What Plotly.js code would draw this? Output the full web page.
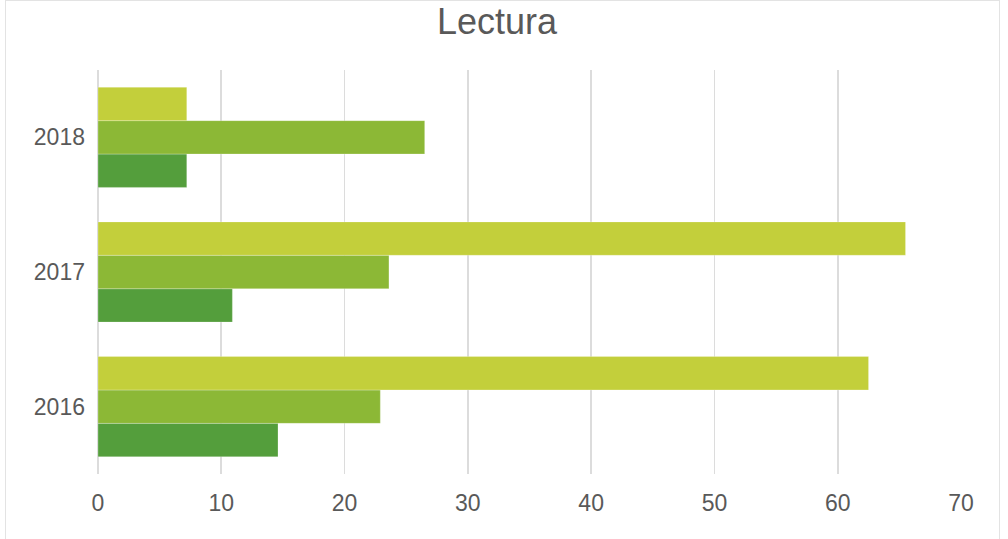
<!DOCTYPE html>
<html>
<head>
<meta charset="utf-8">
<script src="https://cdn.plot.ly/plotly-3.0.1.min.js"></script>
<style>
  html, body { margin: 0; padding: 0; background: #fff; }
  #wrap { position: relative; width: 1008px; height: 539px; }
  #chart { width: 1008px; height: 539px; }
  #frame { position: absolute; left: 5px; top: 0px; width: 995px; height: 545px; border: 1.5px solid #e3e3e3; box-sizing: border-box; pointer-events: none; }
</style>
</head>
<body>
<div id="wrap">
  <div id="chart"></div>
  <div id="frame"></div>
</div>
<script>
const years = ["2016", "2017", "2018"];
const seriesA = [14.6, 10.9, 7.2];   // dark green (bottom of each group)
const seriesB = [22.9, 23.6, 26.5];  // mid green
const seriesC = [62.5, 65.5, 7.2];   // yellow-green (top of each group)
const xTicks = [0, 10, 20, 30, 40, 50, 60, 70];

const colors = ["#549e3c", "#8cb836", "#c3cf3b"];
const vals = [seriesA, seriesB, seriesC];

const traces = vals.map((v, i) => ({
  type: "bar",
  orientation: "h",
  y: years,
  x: v,
  marker: { color: colors[i], line: { color: "rgba(255,255,255,0.5)", width: 0.5 } },
  hoverinfo: "x+y"
}));

const layout = {
  width: 1008,
  height: 539,
  margin: { l: 98, r: 47, t: 70, b: 65 },
  paper_bgcolor: "#ffffff",
  plot_bgcolor: "#ffffff",
  barmode: "group",
  bargap: 0.256,
  bargroupgap: 0,
  showlegend: false,
  title: {
    text: "Lectura",
    x: 0.493,
    xanchor: "center",
    y: 0.96,
    yanchor: "middle",
    font: { family: "Liberation Sans, Arial, sans-serif", size: 36, color: "#595959" }
  },
  xaxis: {
    range: [0, 70],
    tickvals: xTicks,
    ticktext: xTicks.map(String),
    showgrid: true,
    gridcolor: "#dcdcdc",
    gridwidth: 1.8,
    zeroline: true,
    zerolinecolor: "#dcdcdc",
    zerolinewidth: 1.8,
    showline: false,
    ticks: "",
    ticklabelstandoff: 13,
    tickfont: { family: "Liberation Sans, Arial, sans-serif", size: 23, color: "#595959" },
    fixedrange: true
  },
  yaxis: {
    type: "category",
    categoryorder: "array",
    categoryarray: years,
    range: [-0.5, 2.5],
    showgrid: false,
    zeroline: false,
    showline: false,
    ticks: "",
    ticklabelstandoff: 12,
    tickfont: { family: "Liberation Sans, Arial, sans-serif", size: 23, color: "#595959" },
    fixedrange: true
  }
};

Plotly.newPlot("chart", traces, layout, { displayModeBar: false, staticPlot: true });
</script>
</body>
</html>
